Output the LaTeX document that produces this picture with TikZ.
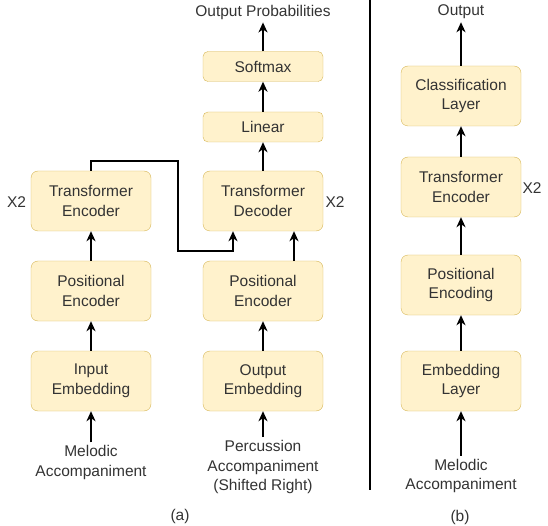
\documentclass[tikz,border=0pt]{standalone}
\usepackage{fontspec}
\setmainfont{Liberation Sans}
\usetikzlibrary{arrows.meta}
\definecolor{boxfill}{HTML}{FFF2CC}
\definecolor{boxline}{HTML}{D6B656}
\definecolor{txt}{HTML}{333333}

\begin{document}
\begin{tikzpicture}[x=1pt,y=-1pt,
  every node/.style={font=\fontsize{15.5}{19.5}\selectfont,text=txt,align=center,inner sep=0pt},
  block/.style={draw=boxline,fill=boxfill,rounded corners=7pt,minimum width=120pt,minimum height=60pt},
  thinblock/.style={block,minimum height=30pt,rounded corners=5pt},
  lbl/.style={inner ysep=3pt},
  arr/.style={-{Stealth[length=10pt,width=9pt,inset=3pt]},line width=1.8pt}]
  \useasboundingbox (0,0) rectangle (548,526);

  % (a) encoder side
  \node[block] (embL) at (91,381) {Input\\Embedding};
  \node[block] (posL) at (91,291) {Positional\\Encoder};
  \node[block] (encL) at (91,201) {Transformer\\Encoder};
  \node[lbl] (inL) at (91,462.5) {Melodic\\Accompaniment};
  \node (repL) at (16.5,202) {X2};

  % (a) decoder side
  \node[block] (embR) at (263,381) {Output\\Embedding};
  \node[block] (posR) at (263,291) {Positional\\Encoder};
  \node[block] (decR) at (263,201) {Transformer\\Decoder};
  \node[thinblock] (linR) at (263,127) {Linear};
  \node[thinblock] (softR) at (263,66.5) {Softmax};
  \node[lbl] (outR) at (263,12) {Output Probabilities};
  \node[lbl] (inR) at (263,467) {Percussion\\Accompaniment\\(Shifted Right)};
  \node (repR) at (335,202) {X2};

  \draw[arr] (inL) -- (embL);
  \draw[arr] (embL) -- (posL);
  \draw[arr] (posL) -- (encL);
  \draw[arr] (encL.north) |- (178,161) |- (233,251) -- ([xshift=-30pt]decR.south);
  \draw[arr] (inR) -- (embR);
  \draw[arr] (embR) -- (posR);
  \draw[arr] ([xshift=31pt]posR.north) -- ([xshift=31pt]decR.south);
  \draw[arr] (decR) -- (linR);
  \draw[arr] (linR) -- (softR);
  \draw[arr] (softR) -- (outR);

  % divider
  \draw[line width=1.3pt] (370,0) -- (370,490);

  % (b) classifier
  \node[block] (embB) at (461,381) {Embedding\\Layer};
  \node[block] (posB) at (461,285) {Positional\\Encoding};
  \node[block] (encB) at (461,187) {Transformer\\Encoder};
  \node[block] (clsB) at (461,96) {Classification\\Layer};
  \node[lbl] (outB) at (461,12) {Output};
  \node[lbl] (inB) at (461,476) {Melodic\\Accompaniment};
  \node (repB) at (532,188) {X2};

  \draw[arr] (inB) -- (embB);
  \draw[arr] (embB) -- (posB);
  \draw[arr] (posB) -- (encB);
  \draw[arr] (encB) -- (clsB);
  \draw[arr] (clsB) -- (outB);

  \node (capA) at (180,516) {(a)};
  \node (capB) at (460,517) {(b)};
\end{tikzpicture}
\end{document}
